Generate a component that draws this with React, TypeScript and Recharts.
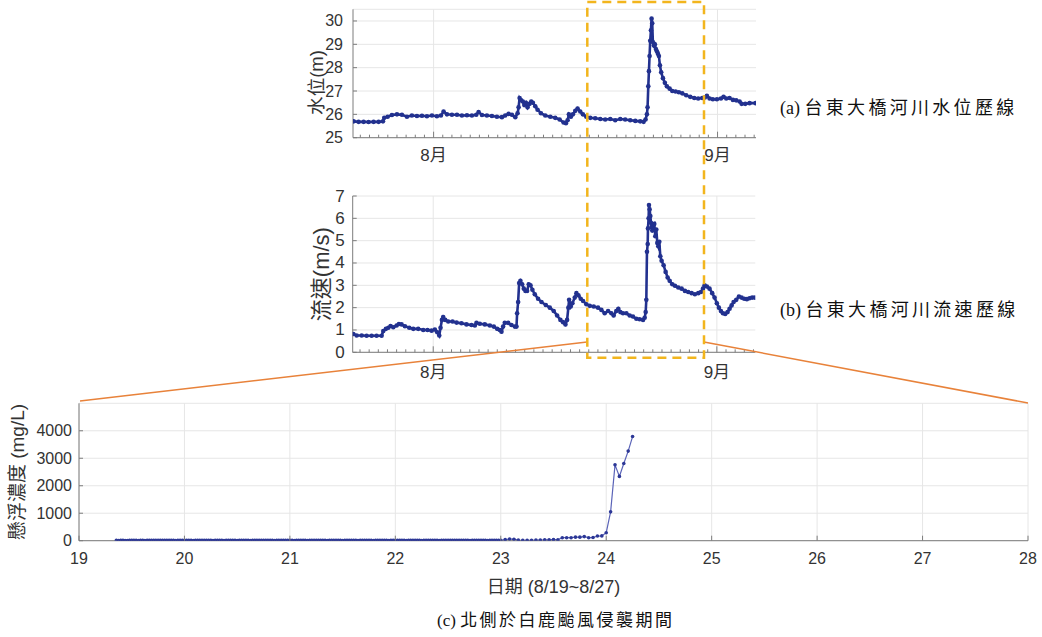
import React from 'react';
import { LineChart, Line, XAxis, YAxis, CartesianGrid, ReferenceLine } from 'recharts';

// ---- (a) water level, x = days after 8/1 ----
const levelDays = [
  -8.73, -8.19, -7.64, -7.10, -6.55, -6.00, -5.53, -5.39, -5.02, -4.55,
  -4.00, -3.46, -2.91, -2.37, -1.82, -1.27, -0.73, -0.18, 0.36, 0.80,
  1.09, 1.46, 2.00, 2.55, 3.09, 3.64, 4.18, 4.66, 4.91, 5.28,
  5.82, 6.37, 6.91, 7.46, 7.82, 8.19, 8.55, 8.92, 9.17, 9.28,
  9.39, 9.57, 9.75, 9.90, 10.08, 10.26, 10.48, 10.66, 10.84, 11.10,
  11.35, 11.72, 12.19, 12.74, 13.28, 13.76, 14.19, 14.45, 14.63, 14.77,
  14.99, 15.21, 15.47, 15.72, 16.01, 16.30, 16.67, 17.10, 17.65, 18.20,
  18.74, 19.29, 19.83, 20.38, 20.92, 21.47, 22.02, 22.56, 22.93, 23.14,
  23.29, 23.36, 23.44, 23.51, 23.58, 23.65, 23.73, 23.80, 23.87, 23.94,
  24.05, 24.16, 24.27, 24.38, 24.49, 24.60, 24.71, 24.85, 25.04, 25.25,
  25.47, 25.77, 26.06, 26.42, 26.78, 27.15, 27.58, 28.02, 28.46, 28.89,
  29.33, 29.62, 29.84, 30.13, 30.49, 30.93, 31.37, 31.66, 31.95, 32.31,
  32.68, 33.04, 33.41, 33.63, 34.03, 34.50, 35.15,
];
const levelValues = [
  25.7, 25.68, 25.68, 25.67, 25.68, 25.68, 25.7, 25.85, 25.9, 25.97,
  26.0, 25.98, 25.9, 25.95, 25.93, 25.94, 25.92, 25.95, 25.92, 25.95,
  26.12, 26.0, 25.98, 25.98, 25.95, 25.96, 25.95, 25.98, 26.1, 25.97,
  25.95, 25.93, 25.9, 25.88, 25.95, 26.02, 25.98, 25.88, 26.05, 26.3,
  26.7, 26.6, 26.55, 26.4, 26.5, 26.3, 26.45, 26.55, 26.5, 26.35,
  26.2, 26.05, 25.95, 25.9, 25.85, 25.78, 25.65, 25.62, 25.75, 26.0,
  25.9, 26.0, 26.15, 26.25, 26.12, 26.0, 25.9, 25.85, 25.83, 25.8,
  25.78, 25.8, 25.75, 25.8, 25.78, 25.75, 25.72, 25.7, 25.68, 25.78,
  26.0, 26.3, 27.2, 27.85, 28.5, 29.15, 29.6, 30.1, 29.9, 29.1,
  28.95, 29.0, 28.8, 28.7, 28.6, 28.5, 28.1, 27.8, 27.55, 27.35,
  27.2, 27.1, 27.0, 26.98, 26.95, 26.9, 26.82, 26.75, 26.7, 26.68,
  26.7, 26.72, 26.8, 26.68, 26.65, 26.65, 26.68, 26.75, 26.68, 26.7,
  26.62, 26.6, 26.55, 26.45, 26.45, 26.48, 26.48,
];

// ---- (b) flow velocity ----
const speedDays = [
  -8.73, -8.37, -7.82, -7.28, -6.73, -6.19, -5.64, -5.46, -5.17, -4.91,
  -4.66, -4.37, -4.00, -3.75, -3.46, -3.09, -2.62, -2.18, -1.64, -1.09,
  -0.62, -0.18, 0.18, 0.44, 0.66, 0.80, 0.95, 1.09, 1.31, 1.64,
  2.11, 2.55, 3.09, 3.64, 4.18, 4.55, 4.73, 5.09, 5.64, 6.19,
  6.62, 6.99, 7.28, 7.46, 7.64, 7.82, 8.19, 8.55, 8.92, 9.10,
  9.17, 9.28, 9.39, 9.53, 9.72, 9.90, 10.08, 10.26, 10.44, 10.63,
  10.84, 11.10, 11.46, 11.83, 12.30, 12.74, 13.17, 13.54, 13.90, 14.19,
  14.45, 14.63, 14.77, 14.85, 15.03, 15.21, 15.47, 15.65, 15.87, 16.12,
  16.38, 16.74, 17.10, 17.54, 18.01, 18.38, 18.74, 19.11, 19.47, 19.72,
  20.01, 20.23, 20.45, 20.74, 21.11, 21.47, 21.83, 22.20, 22.56, 22.93,
  23.11, 23.22, 23.29, 23.36, 23.44, 23.47, 23.54, 23.58, 23.65, 23.73,
  23.80, 23.87, 23.94, 24.05, 24.16, 24.27, 24.38, 24.49, 24.60, 24.71,
  24.82, 24.96, 25.18, 25.40, 25.62, 25.84, 26.13, 26.42, 26.78, 27.15,
  27.51, 27.87, 28.24, 28.60, 28.97, 29.26, 29.48, 29.66, 29.91, 30.20,
  30.49, 30.75, 31.00, 31.22, 31.44, 31.66, 31.91, 32.17, 32.39, 32.61,
  32.83, 33.12, 33.41, 33.70, 33.99, 34.28, 34.57, 34.86, 35.15,
];
const speedValues = [
  0.82, 0.75, 0.75, 0.74, 0.74, 0.74, 0.74, 0.95, 1.05, 1.1,
  1.18, 1.12, 1.2, 1.27, 1.25, 1.17, 1.1, 1.05, 1.05, 1.0,
  1.0, 0.97, 1.02, 0.9, 0.75, 1.1, 1.45, 1.58, 1.45, 1.38,
  1.38, 1.33, 1.3, 1.25, 1.22, 1.2, 1.32, 1.28, 1.25, 1.2,
  1.15, 1.05, 1.0, 0.92, 1.15, 1.32, 1.32, 1.22, 1.15, 1.15,
  1.75, 2.25, 3.1, 3.2, 3.05, 2.85, 2.75, 2.75, 3.05, 3.0,
  2.8, 2.6, 2.4, 2.25, 2.12, 2.0, 1.85, 1.65, 1.45, 1.35,
  1.25, 1.45, 2.0, 2.35, 2.05, 2.2, 2.45, 2.65, 2.55, 2.4,
  2.3, 2.15, 2.08, 2.05, 2.0, 1.9, 1.75, 1.85, 1.75, 1.65,
  1.85, 1.95, 1.8, 1.75, 1.75, 1.65, 1.6, 1.5, 1.48, 1.45,
  1.55, 1.8, 2.35, 4.5, 4.85, 5.55, 6.0, 6.6, 6.4, 6.1,
  5.8, 5.6, 5.45, 5.7, 5.75, 5.2, 5.5, 4.9, 4.75, 4.95,
  4.3, 4.1, 3.9, 3.6, 3.35, 3.2, 3.05, 2.98, 2.9, 2.85,
  2.75, 2.7, 2.65, 2.6, 2.65, 2.7, 2.85, 3.0, 2.95, 2.85,
  2.65, 2.45, 2.2, 2.0, 1.85, 1.75, 1.72, 1.8, 1.95, 2.1,
  2.25, 2.35, 2.5, 2.45, 2.4, 2.38, 2.42, 2.45, 2.45,
];

const monthTicks = [0, 31];
const monthLabels = ['8月', '9月'];
const dayTicks = Array.from({ length: 44 }, (_, i) => i - 8);
const levelTicks = [25, 26, 27, 28, 29, 30];
const speedTicks = [0, 1, 2, 3, 4, 5, 6, 7];

// ---- (c) suspended sediment, 30-min samples from 8/19 08:30, hourly from 8/23 00:00 ----
const sscHalfHourly = [
  12, 10, 11, 12, 10, 9, 11, 12, 13, 11, 10, 12, 11, 10, 12, 14, 12, 11, 13, 15, 14, 12, 11, 13, 12, 11, 12, 10, 11, 12, 13,
  12, 11, 13, 12, 10, 11, 12, 13, 11, 12, 14, 12, 11, 10, 12, 13, 12, 11, 10, 11, 13, 12, 11, 12,
  10, 12, 11, 13, 12, 11, 10, 12, 13, 12, 11, 12, 14, 13, 12, 11, 12, 10, 11, 12, 13, 12, 11, 12,
  11, 12, 10, 12, 13, 11, 12, 11, 10, 12, 13, 12, 11, 12, 14, 12, 11, 10, 12, 11, 12, 13, 12, 11,
  10, 12, 11, 12, 13, 12, 11, 10, 12, 11, 13, 12, 12, 11, 10, 12, 11, 12, 13, 11, 12, 10, 12, 11,
  12, 11, 12, 13, 11, 10, 12, 12, 11, 13, 12, 11, 10, 12, 11, 12, 13, 12, 11, 12, 10, 11, 12, 13,
  12, 11, 12, 14, 12, 11, 12, 13, 12, 11, 10, 12, 11, 13, 12, 12, 11, 12, 10, 12, 13, 12, 11, 14,
];
const sscHourly = [
  15, 40, 60, 55, 20, 15, 15, 15, 20, 20, 35, 30, 45, 35, 110, 110, 110, 130, 130, 150,
  110, 115, 170, 175, 290, 1050, 2760, 2340, 2810, 3260, 3790,
];
const dateTicks = [19, 20, 21, 22, 23, 24, 25, 26, 27, 28];
const sscTicks = [0, 1000, 2000, 3000, 4000];

const levelData = levelDays.map((d, i) => ({ day: d, level: levelValues[i] }));
const speedData = speedDays.map((d, i) => ({ day: d, speed: speedValues[i] }));
const sscData = [
  ...sscHalfHourly.map((v, i) => ({ day: 19 + (8.5 + i * 0.5) / 24, ssc: v })),
  ...sscHourly.map((v, i) => ({ day: 23 + i / 24, ssc: v })),
];

const SANS = '"Liberation Sans", Arial, "Noto Sans CJK TC", sans-serif';
const SERIF = '"Liberation Serif", "Times New Roman", "Noto Sans CJK TC", serif';
const AXIS_COLOR = '#7d7d7d';
const TEXT_COLOR = '#333333';
const GRID_COLOR = '#e6e6e6';
const NAVY = '#22318f';

// ticks drawn inward like the MATLAB box axes
const MonthTick = (props: any) => {
  const { x, y, payload, labelDy } = props;
  const idx = monthTicks.indexOf(payload.value);
  return (
    <g>
      <line x1={x} x2={x} y1={y} y2={y - (idx >= 0 ? 6 : 3)} stroke={AXIS_COLOR} />
      {idx >= 0 && (
        <text x={x} y={y + labelDy} textAnchor="middle" dominantBaseline="central"
          fontFamily={SANS} fontSize={17} fill={TEXT_COLOR}>
          {monthLabels[idx]}
        </text>
      )}
    </g>
  );
};

const TopTick = (props: any) => {
  const { x, y, payload, len } = props;
  const major = monthTicks.indexOf(payload.value) >= 0;
  return <line x1={x} x2={x} y1={y} y2={y + (len || (major ? 6 : 3))} stroke={AXIS_COLOR} />;
};

const LeftTick = (props: any) => {
  const { x, y, payload, gap, size } = props;
  return (
    <g>
      <line x1={x} x2={x + 4} y1={y} y2={y} stroke={AXIS_COLOR} />
      <text x={x - gap} y={y} textAnchor="end" dominantBaseline="central"
        fontFamily={SANS} fontSize={size} fill={TEXT_COLOR}>
        {payload.value}
      </text>
    </g>
  );
};

const RightTick = (props: any) => {
  const { x, y } = props;
  return <line x1={x} x2={x - 4} y1={y} y2={y} stroke={AXIS_COLOR} />;
};

const DateTick = (props: any) => {
  const { x, y, payload } = props;
  return (
    <g>
      <line x1={x} x2={x} y1={y} y2={y - 5} stroke={AXIS_COLOR} />
      <text x={x} y={y + 18} textAnchor="middle" dominantBaseline="central"
        fontFamily={SANS} fontSize={16} fill={TEXT_COLOR}>
        {payload.value}
      </text>
    </g>
  );
};

const sideLabel = (text: string, cx: number, shift: number, size: number) => (props: any) => {
  const vb = props.viewBox;
  const cy = vb.y + vb.height / 2 + shift;
  return (
    <text x={cx} y={cy} transform={`rotate(-90 ${cx} ${cy})`} textAnchor="middle"
      dominantBaseline="central" fontFamily={SANS} fontSize={size} fill={TEXT_COLOR}>
      {text}
    </text>
  );
};

const axisProps = { tickSize: 0, tickMargin: 0, interval: 0 as const, allowDataOverflow: true };

export default function App() {
  return (
    <div style={{ position: 'absolute', left: 0, top: 0, width: 1042, height: 637, background: '#fff' }}>
      <div style={{ position: 'absolute', left: 0, top: 0 }}>
        <LineChart width={1042} height={175} data={levelData}
          margin={{ top: 9.3, right: 286, bottom: 7.3, left: 303 }}>
          <CartesianGrid vertical={false} stroke={GRID_COLOR} />
          {monthTicks.map((m) => <ReferenceLine key={m} x={m} stroke={GRID_COLOR} />)}
          <XAxis dataKey="day" type="number" domain={[-8.8, 35.2]} ticks={dayTicks} height={30}
            stroke={AXIS_COLOR} tick={<MonthTick labelDy={17.5} />} {...axisProps} />
          <XAxis xAxisId="top" orientation="top" type="number" domain={[-8.8, 35.2]} ticks={dayTicks}
            height={0} stroke={AXIS_COLOR} tick={<TopTick />} {...axisProps} />
          <YAxis type="number" domain={[25, 30.5]} ticks={levelTicks} width={50} stroke={AXIS_COLOR}
            tick={<LeftTick gap={10} size={16} />} label={{ content: sideLabel('水位(m)', 316.5, 9, 18.5) }}
            {...axisProps} />
          <YAxis yAxisId="right" orientation="right" type="number" domain={[25, 30.5]} ticks={levelTicks}
            width={0} stroke={AXIS_COLOR} tick={<RightTick />} {...axisProps} />
          <Line dataKey="level" type="linear" stroke={NAVY} strokeWidth={2.6}
            dot={{ r: 2.3, fill: NAVY, stroke: NAVY, strokeWidth: 0 }} isAnimationActive={false} />
        </LineChart>
      </div>

      <div style={{ position: 'absolute', left: 0, top: 180 }}>
        <LineChart width={1042} height={210} data={speedData}
          margin={{ top: 16, right: 286.7, bottom: 12.7, left: 302.7 }}>
          <CartesianGrid vertical={false} stroke={GRID_COLOR} />
          {monthTicks.map((m) => <ReferenceLine key={m} x={m} stroke={GRID_COLOR} />)}
          <XAxis dataKey="day" type="number" domain={[-8.8, 35.2]} ticks={dayTicks} height={25}
            stroke={AXIS_COLOR} tick={<MonthTick labelDy={20.5} />} {...axisProps} />
          <XAxis xAxisId="top" orientation="top" type="number" domain={[-8.8, 35.2]} ticks={dayTicks}
            height={0} stroke={AXIS_COLOR} tick={<TopTick />} {...axisProps} />
          <YAxis type="number" domain={[0, 7]} ticks={speedTicks} width={50} stroke={AXIS_COLOR}
            tick={<LeftTick gap={8} size={17} />} label={{ content: sideLabel('流速(m/s)', 322, 0, 22) }}
            {...axisProps} />
          <YAxis yAxisId="right" orientation="right" type="number" domain={[0, 7]} ticks={speedTicks}
            width={0} stroke={AXIS_COLOR} tick={<RightTick />} {...axisProps} />
          <Line dataKey="speed" type="linear" stroke={NAVY} strokeWidth={2.6}
            dot={{ r: 2.3, fill: NAVY, stroke: NAVY, strokeWidth: 0 }} isAnimationActive={false} />
        </LineChart>
      </div>

      <div style={{ position: 'absolute', left: 0, top: 390 }}>
        <LineChart width={1042} height={247} data={sscData}
          margin={{ top: 13.3, right: 14, bottom: 41.3, left: 0 }}>
          <CartesianGrid stroke={GRID_COLOR} />
          <XAxis dataKey="day" type="number" domain={[19, 28]} ticks={dateTicks} height={55}
            stroke={AXIS_COLOR} tick={<DateTick />} {...axisProps}
            label={{ value: '日期 (8/19~8/27)', position: 'insideBottom', offset: 3,
              style: { fontFamily: SANS, fontSize: 18, fill: TEXT_COLOR } }} />
          <XAxis xAxisId="top" orientation="top" type="number" domain={[19, 28]} ticks={dateTicks}
            height={0} stroke={AXIS_COLOR} tick={<TopTick len={5} />} {...axisProps} />
          <YAxis type="number" domain={[0, 5000]} ticks={sscTicks} width={79} stroke={AXIS_COLOR}
            tick={<LeftTick gap={7} size={16} />} label={{ content: sideLabel('懸浮濃度 (mg/L)', 17.5, 0, 19) }}
            {...axisProps} />
          <YAxis yAxisId="right" orientation="right" type="number" domain={[0, 5000]} ticks={sscTicks}
            width={0} stroke={AXIS_COLOR} tick={<RightTick />} {...axisProps} />
          <Line dataKey="ssc" type="linear" stroke="#5b64b8" strokeWidth={1.2}
            dot={{ r: 1.8, fill: '#2c3796', stroke: '#2c3796', strokeWidth: 0 }} isAnimationActive={false} />
        </LineChart>
      </div>

      <svg width={1042} height={637} style={{ position: 'absolute', left: 0, top: 0, pointerEvents: 'none' }}>
        <line x1={587} y1={342} x2={80} y2={401} stroke="#e8823a" strokeWidth={1.5} />
        <line x1={704} y1={342} x2={1028} y2={403} stroke="#e8823a" strokeWidth={1.5} />
        <rect x={587.3} y={2} width={116.7} height={355.7} fill="none" stroke="#f2b51d"
          strokeWidth={2.5} strokeDasharray="9 6" />
        <text x={780} y={107.5} dominantBaseline="central" fontFamily={SERIF} fontSize={18} fill="#111">
          (a) <tspan letterSpacing={3.3}>台東大橋河川水位歷線</tspan>
        </text>
        <text x={780} y={310} dominantBaseline="central" fontFamily={SERIF} fontSize={18} fill="#111">
          (b) <tspan letterSpacing={3.3}>台東大橋河川流速歷線</tspan>
        </text>
        <text x={437} y={620} dominantBaseline="central" fontFamily={SERIF} fontSize={17} fill="#111">
          (c) <tspan letterSpacing={2.5}>北側於白鹿颱風侵襲期間</tspan>
        </text>
      </svg>
    </div>
  );
}
